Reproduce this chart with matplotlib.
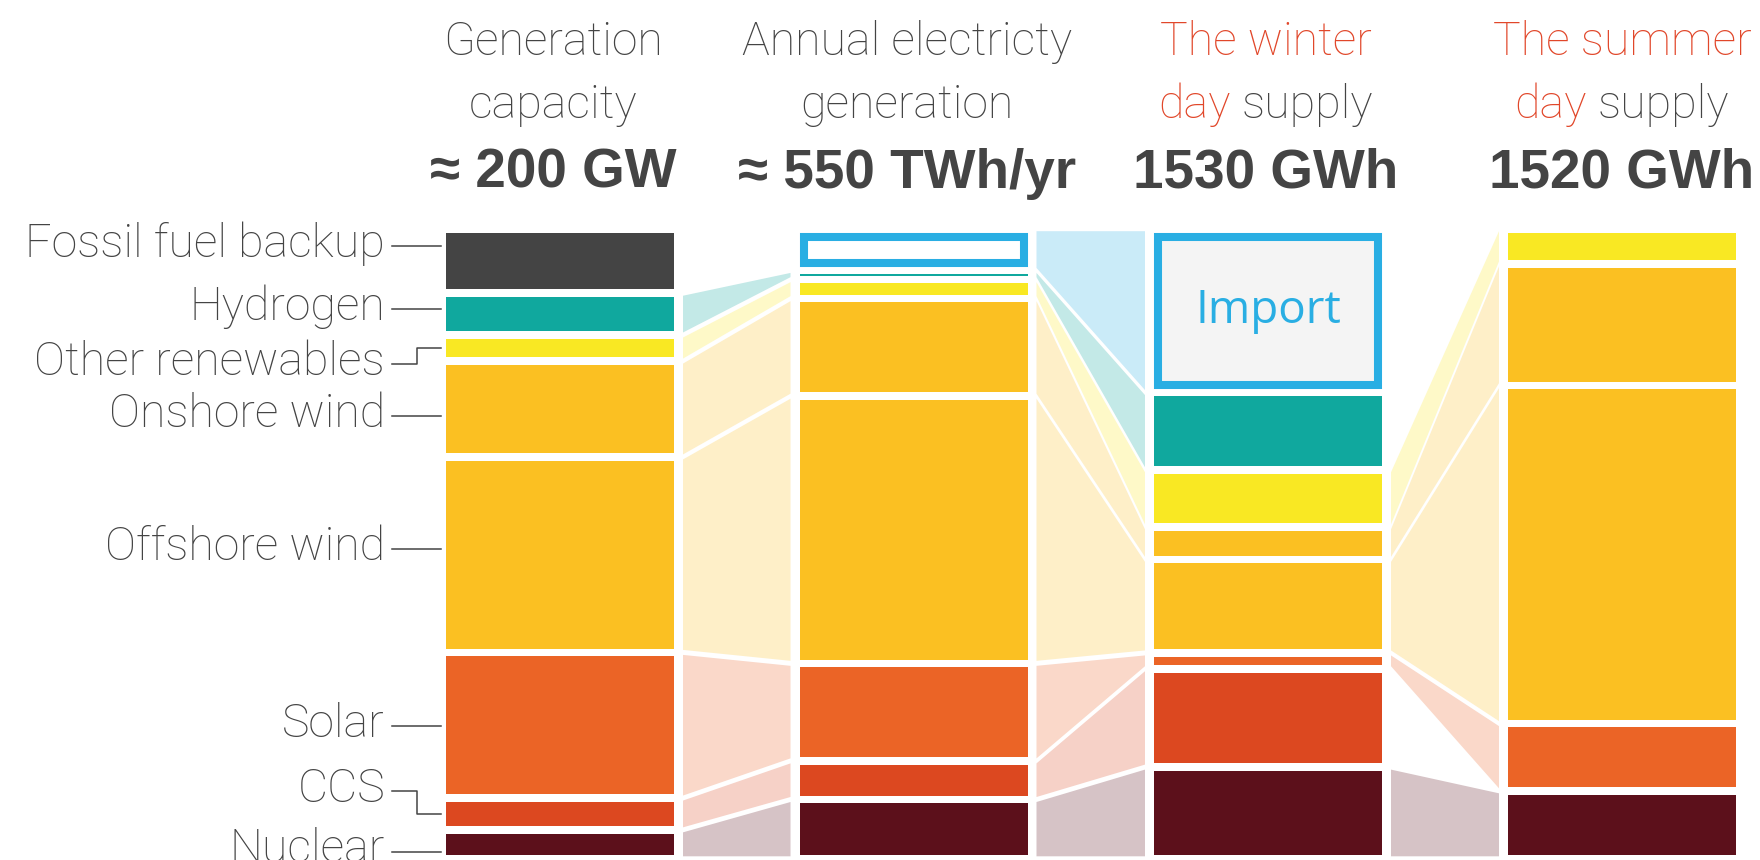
import numpy as np
import matplotlib.pyplot as plt
from matplotlib.patches import Rectangle, Polygon
from matplotlib.colors import to_rgb

# categories, top to bottom in every column
categories = ['Import', 'Fossil fuel backup', 'Hydrogen', 'Other renewables',
              'Onshore wind', 'Offshore wind', 'Solar', 'CCS', 'Nuclear']
colors = ['#29AEE3', '#444444', '#10A89E', '#F9E823', '#FBC022', '#FBC022',
          '#EB6426', '#DC4820', '#5C101B']

# values per column (0 = not in that column)
capacity_gw = [0, 20, 12, 6.5, 31, 66, 48.5, 8.5, 7.5]
annual_twh = [33, 0, 1.6, 11, 87, 251, 87, 30, 50]
winter_gwh = [420, 0, 187, 133, 67, 231, 22, 244, 226]
summer_gwh = [0, 0, 0, 71, 293, 848, 153, 0, 155]
columns = [capacity_gw, annual_twh, winter_gwh, summer_gwh]

titles = [('Generation', 'capacity'), ('Annual electricty', 'generation'),
          ('The winter', 'day supply'), ('The summer', 'day supply')]
totals = ['≈ 200 GW', '≈ 550 TWh/yr', '1530 GWh', '1520 GWh']

# left labels (column 1 categories) and where their leader lines sit
label_names = categories[1:]
label_y = [246, 308.6, 364, 416, 548.5, 726, 790.5, 851.5]
label_elbow = [False, False, True, False, False, False, True, False]

GREY = '#444444'
RED = '#E1472A'
LIGHT = ['Roboto', 'DejaVu Sans']
BOLD = ['Liberation Sans', 'DejaVu Sans']

# layout in pixels
W, H = 1760, 860
col_center = [560, 913.5, 1268, 1622]
header_x = [553, 907, 1266, 1622]
col_w = 228
top, bottom, gap = 232.5, 855, 7.6
flow_pad = 9
flow_grow = 1.3
FS = 33.5


def tint(c, a=0.25):
    c = np.array(to_rgb(c))
    return tuple(1 - a * (1 - c))


def stack(vals):
    vals = np.array(vals, float)
    n = (vals > 0).sum()
    scale = ((bottom - top) - gap * (n - 1)) / vals.sum()
    tops = np.full(len(vals), np.nan)
    bots = np.full(len(vals), np.nan)
    y = top
    for i, v in enumerate(vals):
        if v > 0:
            tops[i] = y
            bots[i] = y + v * scale
            y = bots[i] + gap
    return tops, bots


fig = plt.figure(figsize=(W / 100, H / 100), dpi=100)
ax = fig.add_axes([0, 0, 1, 1])
ax.set_xlim(0, W)
ax.set_ylim(H, 0)
ax.axis('off')

stacks = [stack(v) for v in columns]
lefts = [c - col_w / 2 for c in col_center]
rights = [c + col_w / 2 for c in col_center]

# flows between neighbouring columns
for c in range(len(columns) - 1):
    t0, b0 = stacks[c]
    t1, b1 = stacks[c + 1]
    x0, x1 = rights[c] + flow_pad, lefts[c + 1] - flow_pad
    for i in range(len(categories)):
        if columns[c][i] > 0 and columns[c + 1][i] > 0:
            pts = [(x0, t0[i] - flow_grow), (x1, t1[i] - flow_grow),
                   (x1, b1[i] + flow_grow), (x0, b0[i] + flow_grow)]
            ax.add_patch(Polygon(pts, closed=True, fc=tint(colors[i]), ec='none'))

# stacked bars
for c, vals in enumerate(columns):
    tops, bots = stacks[c]
    for i, v in enumerate(vals):
        if v <= 0:
            continue
        h = bots[i] - tops[i]
        if categories[i] == 'Import':
            inner = 'white' if c == 1 else '#F4F4F4'
            ax.add_patch(Rectangle((lefts[c] + 4, tops[i] + 4), col_w - 8, h - 8,
                                   fc=inner, ec=colors[i], lw=5.8, joinstyle='miter'))
            if c == 2:
                ax.text(col_center[c], (tops[i] + bots[i]) / 2, 'Import', color=colors[i],
                        fontsize=33, family=['Open Sans', 'DejaVu Sans'],
                        ha='center', va='center')
        else:
            ax.add_patch(Rectangle((lefts[c], tops[i]), col_w, h, fc=colors[i], ec='none'))

# left labels with leader lines
tops1, bots1 = stacks[0]
for k, name in enumerate(label_names):
    i = categories.index(name)
    y = label_y[k]
    ax.text(385, y + 11, name, ha='right', va='baseline', fontsize=FS,
            family=LIGHT, fontweight='light', color=GREY)
    if label_elbow[k]:
        yc = (tops1[i] + bots1[i]) / 2
        ax.plot([392, 417, 417, 441], [y, y, yc, yc], color=GREY, lw=1.1)
    else:
        ax.plot([392, 441], [y, y], color=GREY, lw=1.1)

# column headers
renderer = fig.canvas.get_renderer()
for c, (l1, l2) in enumerate(titles):
    x = header_x[c]
    red_title = l1.startswith('The')
    ax.text(x, 55, l1, ha='center', va='baseline', fontsize=FS, family=LIGHT,
            fontweight='light', color=RED if red_title else GREY)
    if red_title:
        first, rest = l2.split(' ', 1)
        kw = dict(va='baseline', fontsize=FS, family=LIGHT, fontweight='light')
        ta = ax.text(0, 118, first, color=RED, **kw)
        tb = ax.text(0, 118, rest, color=GREY, **kw)
        tf = ax.text(0, 118, l2, alpha=0, **kw)
        wf = tf.get_window_extent(renderer).width
        ta.set_x(x - wf / 2)
        ta.set_ha('left')
        tb.set_x(x + wf / 2)
        tb.set_ha('right')
        tf.remove()
    else:
        ax.text(x, 118, l2, ha='center', va='baseline', fontsize=FS, family=LIGHT,
                fontweight='light', color=GREY)
    ax.text(x, 188, totals[c], ha='center', va='baseline', fontsize=39.5, family=BOLD,
            fontweight='bold', color=GREY)

fig.savefig('out.png', dpi=100, facecolor='white')
